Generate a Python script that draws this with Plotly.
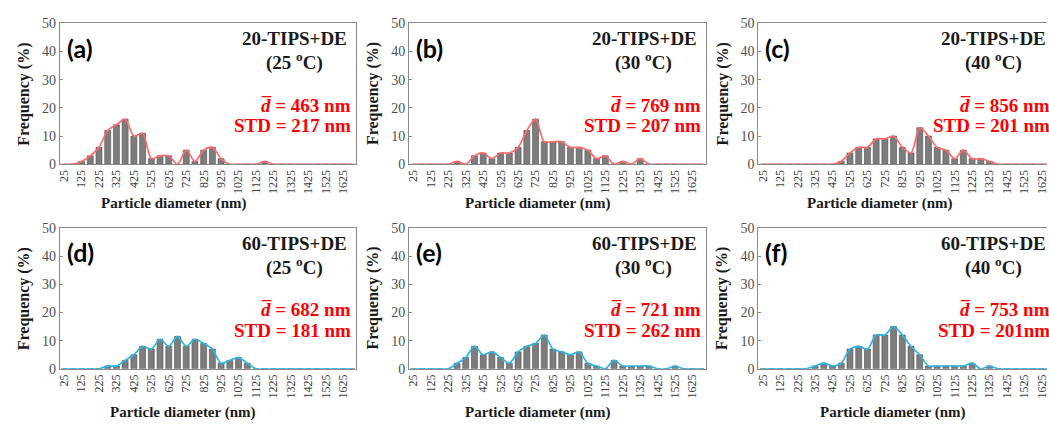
import plotly.graph_objects as go

# ---------------- data ----------------
diameters = [25, 75, 125, 175, 225, 275, 325, 375, 425, 475, 525, 575, 625, 675, 725, 775, 825,
             875, 925, 975, 1025, 1075, 1125, 1175, 1225, 1275, 1325, 1375, 1425, 1475, 1525,
             1575, 1625, 1675]
tick_labels = ["25", "125", "225", "325", "425", "525", "625", "725", "825", "925", "1025",
               "1125", "1225", "1325", "1425", "1525", "1625"]
tick_positions = [25, 125, 225, 325, 425, 525, 625, 725, 825, 925, 1025, 1125, 1225, 1325,
                  1425, 1525, 1625]

freq_a = [0, 0, 1, 3, 6, 12, 14, 16, 10, 11, 2, 3, 3, 0, 5, 1, 5, 6, 2, 0, 0, 0, 0, 1,
          0, 0, 0, 0, 0, 0, 0, 0, 0, 0]
freq_b = [0, 0, 0, 0, 0, 1, 0, 3, 4, 2, 4, 4, 6, 12, 16, 8, 8, 8, 6, 6, 5, 2, 3, 0,
          1, 0, 2, 0, 0, 0, 0, 0, 0, 0]
freq_c = [0, 0, 0, 0, 0, 0, 0, 0, 0, 1, 4, 6, 6, 9, 9, 10, 6, 4, 13, 10, 6, 5, 2, 5,
          2, 2, 1, 0, 0, 0, 0, 0, 0, 0]
freq_d = [0, 0, 0, 0, 0, 1, 1, 3, 5, 8, 7, 10.5, 8, 11.5, 8, 10.5, 9, 7, 2, 3, 4, 2, 0, 0,
          0, 0, 0, 0, 0, 0, 0, 0, 0, 0]
freq_e = [0, 0, 0, 0, 0, 2, 4, 8, 5, 6, 4, 2, 6, 8, 9, 12, 7, 6, 5, 6, 2, 1, 0, 3,
          1, 1, 1, 1, 0, 0, 1, 0, 0, 0]
freq_f = [0, 0, 0, 0, 0, 0, 1, 2, 1, 2, 7, 8, 7, 12, 12, 15, 12, 8, 5, 1, 1, 1, 1, 1,
          2, 0, 1, 0, 0, 0, 0, 0, 0, 0]

panel_labels = ["(a)", "(b)", "(c)", "(d)", "(e)", "(f)"]
samples = ["20-TIPS+DE", "20-TIPS+DE", "20-TIPS+DE", "60-TIPS+DE", "60-TIPS+DE", "60-TIPS+DE"]
temps = ["25", "30", "40", "25", "30", "40"]
mean_d = ["463", "769", "856", "682", "721", "753"]
std_d = ["217 nm", "207 nm", "201 nm", "181 nm", "262 nm", "201nm"]
series = [freq_a, freq_b, freq_c, freq_d, freq_e, freq_f]

# ---------------- layout geometry (pixels) ----------------
W, H = 1049, 427
PW, PH = 298, 146
col_left = [57, 408, 759]
row_top = [17, 229]
xt_off = [115, 130, 122, 124, 130, 135]
line_colors = ["#FF6B6B", "#FF6B6B", "#FF6B6B", "#2BB7E6", "#2BB7E6", "#2BB7E6"]

SERIF = "Liberation Serif, Times New Roman, serif"
fig = go.Figure()
layout = dict(width=W, height=H, margin=dict(l=0, r=0, t=0, b=0),
              paper_bgcolor="white", plot_bgcolor="white", showlegend=False,
              bargap=0.3, annotations=[])

def px(x):
    return x / W

def py(y):
    return 1 - y / H

for i in range(6):
    r, c = divmod(i, 3)
    L, T = col_left[c], row_top[r]
    R = min(L + PW, W)
    xa = "xaxis" if i == 0 else f"xaxis{i+1}"
    ya = "yaxis" if i == 0 else f"yaxis{i+1}"
    xr = "x" if i == 0 else f"x{i+1}"
    yr = "y" if i == 0 else f"y{i+1}"
    full = (R - L) >= PW
    xmax = 1700 * (R - L) / PW
    layout[xa] = dict(domain=[px(L), px(R)], anchor=yr, range=[0, xmax],
                      tickmode="array", tickvals=tick_positions, ticktext=tick_labels,
                      tickangle=-90, ticks="", showgrid=False, zeroline=False,
                      ticklabeloverflow="allow",
                      showline=True, linecolor="#8a8a8a", linewidth=1, mirror=True,
                      tickfont=dict(family=SERIF, size=12, color="#404040"))
    layout[ya] = dict(domain=[py(T + PH), py(T)], anchor=xr, range=[0, 50],
                      tickvals=[0, 10, 20, 30, 40, 50], ticks="inside", ticklen=3,
                      tickcolor="#8a8a8a", showgrid=False, zeroline=False,
                      showline=True, linecolor="#8a8a8a", linewidth=1, mirror=full,
                      tickfont=dict(family=SERIF, size=14, color="#505050"))
    fig.add_trace(go.Bar(x=diameters, y=series[i], xaxis=xr, yaxis=yr, width=34,
                         marker=dict(color="#7d7d7d", line=dict(color="#4a4a4a", width=0.6))))
    fig.add_trace(go.Scatter(x=diameters, y=series[i], xaxis=xr, yaxis=yr, mode="lines",
                             line=dict(color=line_colors[i], width=1.7, shape="spline",
                                       smoothing=0.8)))
    ann = layout["annotations"]
    ann.append(dict(x=px(L + 5), y=py(T + 25), xref="paper", yref="paper",
                    text=f"<b>{panel_labels[i]}</b>", showarrow=False,
                    xanchor="left", yanchor="middle",
                    font=dict(family="Lato, Open Sans, sans-serif", size=25, color="black")))
    ann.append(dict(x=px(L + 291), y=py(T + 16), xref="paper", yref="paper",
                    text=f"<b>{samples[i]}</b>", showarrow=False,
                    xanchor="right", yanchor="middle",
                    font=dict(family=SERIF, size=19, color="#1a1a1a")))
    ann.append(dict(x=px(L + 236), y=py(T + 40), xref="paper", yref="paper",
                    text=f"<b>({temps[i]} <sup>o</sup>C)</b>", showarrow=False,
                    xanchor="center", yanchor="middle",
                    font=dict(family=SERIF, size=19, color="#1a1a1a")))
    ann.append(dict(x=px(L + 295), y=py(T + 85), xref="paper", yref="paper",
                    text=f"<b><i>d\u0305</i> = {mean_d[i]} nm</b>", showarrow=False,
                    xanchor="right", yanchor="middle",
                    font=dict(family=SERIF, size=19, color="#FF0000")))
    ann.append(dict(x=px(L + 295), y=py(T + 106), xref="paper", yref="paper",
                    text=f"<b>STD = {std_d[i]}</b>", showarrow=False,
                    xanchor="right", yanchor="middle",
                    font=dict(family=SERIF, size=19, color="#FF0000")))
    ann.append(dict(x=px(L + xt_off[i]), y=py(T + 187 + 4 * r), xref="paper", yref="paper",
                    text="<b>Particle diameter (nm)</b>", showarrow=False,
                    xanchor="center", yanchor="middle",
                    font=dict(family=SERIF, size=15, color="#1a1a1a")))
    ann.append(dict(x=px(L - 36), y=py(T + PH / 2), xref="paper", yref="paper",
                    text="<b>Frequency (%)</b>", showarrow=False, textangle=-90,
                    xanchor="center", yanchor="middle",
                    font=dict(family=SERIF, size=16, color="#1a1a1a")))

fig.update_layout(**layout)
fig.write_html("out.html", config={"displayModeBar": False},
               post_script="document.body.style.margin='0';document.body.style.overflow='hidden';")
